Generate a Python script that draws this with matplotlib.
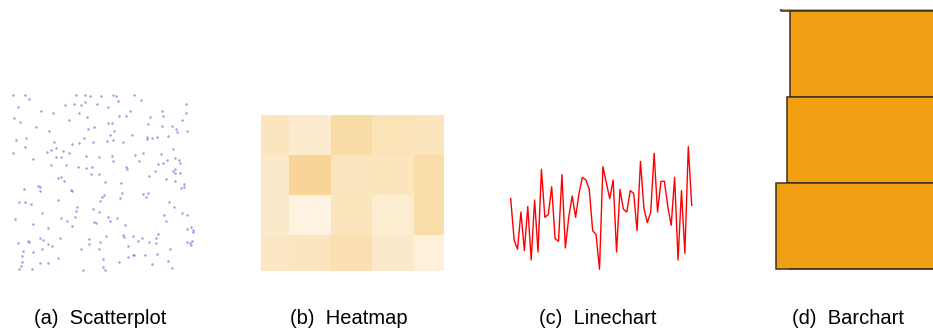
import matplotlib
matplotlib.use("Agg")
import matplotlib.pyplot as plt
import numpy as np
from matplotlib.colors import LinearSegmentedColormap

# ---- data ----
scatter_x = [38, 75, 227, 255, 270, 302, 338, 348, 403, 88, 355, 422, 53, 196, 222, 243, 255, 290, 324, 557,
             124, 158, 238, 390, 486, 557, 42, 60, 208, 261, 357, 378, 449, 490, 547, 109, 146, 264, 281, 324,
             335, 445, 485, 517, 527, 530, 560, 48, 78, 161, 216, 237, 251, 278, 322, 330, 340, 343, 370, 395,
             441, 442, 456, 472, 503, 40, 76, 141, 154, 168, 188, 206, 169, 182, 259, 297, 336, 338, 406, 428,
             484, 520, 526, 98, 154, 199, 233, 258, 276, 379, 381, 417, 475, 490, 500, 537, 540, 272, 296, 464,
             519, 526, 524, 540, 174, 184, 192, 448, 499, 526, 316, 362, 114, 120, 121, 72, 214, 215, 552, 553,
             544, 312, 306, 300, 359, 365, 428, 438, 445, 56, 76, 92, 174, 230, 229, 279, 506, 523, 44, 126,
             182, 200, 216, 225, 296, 283, 288, 325, 331, 351, 492, 499, 545, 560, 99, 145, 376, 560, 573, 578,
             578, 54, 84, 88, 121, 129, 145, 156, 179, 266, 266, 299, 318, 370, 372, 385, 399, 415, 427, 447,
             467, 467, 475, 562, 569, 573, 577, 68, 99, 127, 243, 297, 509, 67, 174, 309, 383, 399, 401, 435,
             470, 66, 121, 143, 357, 457, 503, 62, 58, 97, 248, 308, 316, 517]
scatter_y = [555, 555, 555, 555, 552, 553, 555, 553, 554, 543, 538, 540, 518, 525, 528, 526, 534, 528, 519, 527,
             507, 502, 500, 507, 506, 502, 487, 475, 480, 488, 492, 493, 489, 493, 481, 458, 447, 452, 460, 471,
             470, 468, 461, 461, 453, 445, 448, 419, 425, 413, 408, 411, 425, 414, 416, 435, 420, 446, 414, 436,
             430, 423, 427, 428, 432, 381, 400, 385, 389, 395, 387, 382, 369, 370, 371, 370, 372, 356, 375, 381,
             379, 394, 366, 363, 345, 346, 339, 337, 338, 338, 333, 357, 349, 351, 360, 359, 351, 317, 319, 326,
             327, 333, 322, 320, 307, 309, 296, 312, 303, 298, 293, 291, 282, 278, 268, 272, 271, 267, 288, 280,
             277, 255, 249, 236, 246, 261, 257, 250, 262, 235, 234, 227, 239, 219, 208, 214, 234, 218, 184, 202,
             186, 178, 162, 188, 204, 173, 172, 189, 178, 185, 196, 177, 202, 195, 168, 157, 164, 154, 159, 151,
             145, 112, 116, 115, 127, 119, 108, 103, 127, 122, 107, 115, 133, 134, 129, 102, 132, 118, 126, 113,
             127, 112, 139, 114, 111, 106, 116, 88, 85, 92, 94, 93, 94, 72, 67, 64, 68, 74, 76, 75,
             77, 54, 52, 50, 54, 49, 56, 42, 34, 32, 30, 38, 30, 37]

heat_values = [
    [27, 21, 38, 30, 28],
    [23, 44, 27, 28, 36],
    [23, 13, 28, 20, 36],
    [25, 27, 33, 23, 15],
]

line_values = [56, 25, 18, 46, 17, 50, 10, 55, 16, 78, 42, 44, 65, 26, 24, 74, 19, 42, 58, 42,
               60, 72, 70, 63, 32, 29, 3, 80, 68, 56, 70, 16, 63, 48, 46, 62, 60, 32, 84, 49,
               38, 46, 90, 46, 69, 69, 50, 36, 72, 10, 62, 15, 95, 51]

bar_values = [89.5, 85, 86.5, 92, 85]

captions = ["(a)  Scatterplot", "(b)  Heatmap", "(c)  Linechart", "(d)  Barchart"]

W, H = 933, 332
fig = plt.figure(figsize=(W / 100, H / 100), dpi=100)
plt.rcParams['font.family'] = ['Liberation Sans', 'DejaVu Sans']


def px_axes(x0, y0, x1, y1):
    """Axes from pixel box (top-left origin)."""
    ax = fig.add_axes([x0 / W, 1 - y1 / H, (x1 - x0) / W, (y1 - y0) / H])
    ax.set_axis_off()
    return ax


# (a) scatter
ax = px_axes(0, 80, 200, 280)
ax.scatter(scatter_x, scatter_y, s=3.2, color="#6a5acd", alpha=0.6, linewidths=0)
ax.set_xlim(0, 600)
ax.set_ylim(0, 600)

# (b) heatmap
orange = "#F0A012"
cmap = LinearSegmentedColormap.from_list("wo", ["#ffffff", orange])
ax = px_axes(261, 115, 444, 271)
ax.pcolormesh(np.arange(6), np.arange(5), np.array(heat_values), cmap=cmap, vmin=0, vmax=100)
ax.set_xlim(0.329, 4.717)
ax.set_ylim(3.9, 0)

# (c) line chart
ax = px_axes(510.7, 140, 691.7, 273.3)
ax.plot(np.arange(len(line_values)), line_values, color="#ff0000", lw=1.0, clip_on=False)
ax.set_xlim(0, len(line_values) - 1)
ax.set_ylim(0, 100)

# (d) bar chart
ax = px_axes(760, 9, 960, 270)
ax.barh(np.arange(len(bar_values)), bar_values, height=1.0, color=orange,
        edgecolor="#3d3020", linewidth=1.1)
ax.set_xlim(100, 0)
ax.set_ylim(3.512, 0.477)

# captions
for cx, txt in zip([100.5, 349, 598, 847.5], captions):
    fig.text(cx / W, 1 - 318 / H, txt, ha="center", va="center", fontsize=14.5, color="#000000")

fig.savefig("out.png", dpi=100)
